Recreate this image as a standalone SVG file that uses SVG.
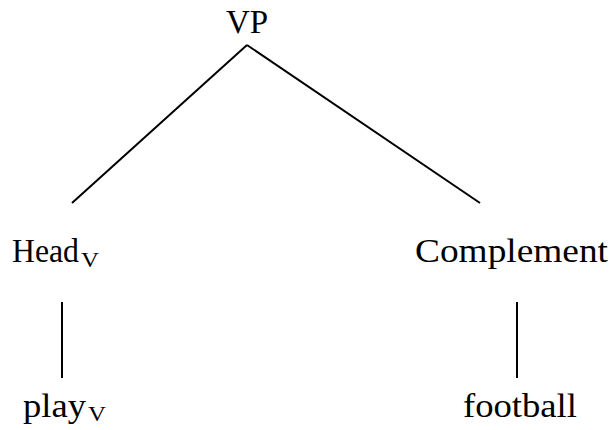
<svg xmlns="http://www.w3.org/2000/svg" width="614" height="430" viewBox="0 0 614 430">
  <style>
    .lbl { font-family: "Liberation Serif", "Times New Roman", serif; font-size: 33px; fill: #000; }
    .sub { font-family: "Liberation Serif", "Times New Roman", serif; font-size: 20px; fill: #000; }
    .edge { stroke: #000; stroke-width: 2; fill: none; }
  </style>
  <rect width="614" height="430" fill="#fff"/>
  <g id="connectors">
    <line class="edge" x1="247" y1="45" x2="72" y2="203"/>
    <line class="edge" x1="247" y1="45" x2="480" y2="203"/>
    <line class="edge" x1="62" y1="302" x2="62" y2="378"/>
    <line class="edge" x1="517" y1="302" x2="517" y2="378"/>
  </g>
  <g id="vp">
    <text class="lbl" x="247" y="33" text-anchor="middle">VP</text>
  </g>
  <g id="head">
    <text class="lbl" x="12" y="262" textLength="67" lengthAdjust="spacingAndGlyphs">Head</text>
    <text class="sub" x="81" y="267" textLength="18" lengthAdjust="spacingAndGlyphs">V</text>
  </g>
  <g id="complement">
    <text class="lbl" x="415" y="262" textLength="193" lengthAdjust="spacingAndGlyphs">Complement</text>
  </g>
  <g id="play">
    <text class="lbl" x="23" y="417" textLength="63" lengthAdjust="spacingAndGlyphs">play</text>
    <text class="sub" x="88" y="421" textLength="18" lengthAdjust="spacingAndGlyphs">V</text>
  </g>
  <g id="football">
    <text class="lbl" x="463" y="417" textLength="114" lengthAdjust="spacingAndGlyphs">football</text>
  </g>
</svg>
